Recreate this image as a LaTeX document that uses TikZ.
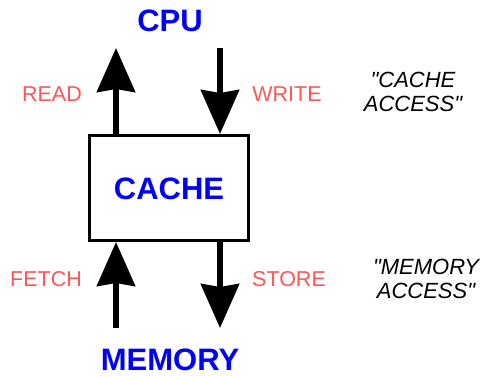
\documentclass[tikz,border=0pt]{standalone}
\usepackage{fontspec}
\setmainfont{Liberation Sans}
\newfontfamily\notefont{Liberation Sans}[Ligatures=TeXOff]
\usetikzlibrary{arrows.meta}
\definecolor{titleblue}{RGB}{0,0,255}
\definecolor{labelred}{RGB}{255,85,85}
\begin{document}
\begin{tikzpicture}[x=1pt,y=-1pt,
  title/.style={font=\fontsize{31}{31}\selectfont\bfseries, text=titleblue, inner sep=0pt},
  oplabel/.style={font=\fontsize{21.5}{21.5}\selectfont, text=labelred, inner sep=0pt},
  note/.style={font=\notefont\fontsize{22}{24}\selectfont\itshape, align=center, inner sep=0pt},
  bigarrow/.style={line width=5.5pt, -{Stealth[length=44pt,width=38pt,inset=3pt]}},
  cachebox/.style={draw, line width=3pt, minimum width=159pt, minimum height=105pt, inner sep=0pt}]
  \useasboundingbox (0,0) rectangle (482,377);

  \node[cachebox] (cache) at (169,188) {};
  \node[title] (cachelbl) at (169,189) {CACHE};
  \node[title] (cpu) at (170,21) {CPU};
  \node[title] (mem) at (170,360) {MEMORY};

  % end points of the connectors above and below the cache
  \coordinate (rtop) at (116,48);
  \coordinate (wtop) at (220,48);
  \coordinate (fbot) at (116,328);
  \coordinate (sbot) at (220,328);

  \draw[bigarrow] (cache.north -| rtop) -- (rtop);
  \draw[bigarrow] (wtop) -- (cache.north -| wtop);
  \draw[bigarrow] (fbot) -- (cache.south -| fbot);
  \draw[bigarrow] (cache.south -| sbot) -- (sbot);

  \node[oplabel] (read) at (52,94) {READ};
  \node[oplabel] (write) at (287,94) {WRITE};
  \node[oplabel] (fetch) at (46,279) {FETCH};
  \node[oplabel] (store) at (289,279) {STORE};

  \node[note] (cacc) at (413,92) {"CACHE\\ACCESS"};
  \node[note] (macc) at (426,279) {"MEMORY\\ACCESS"};
\end{tikzpicture}
\end{document}
